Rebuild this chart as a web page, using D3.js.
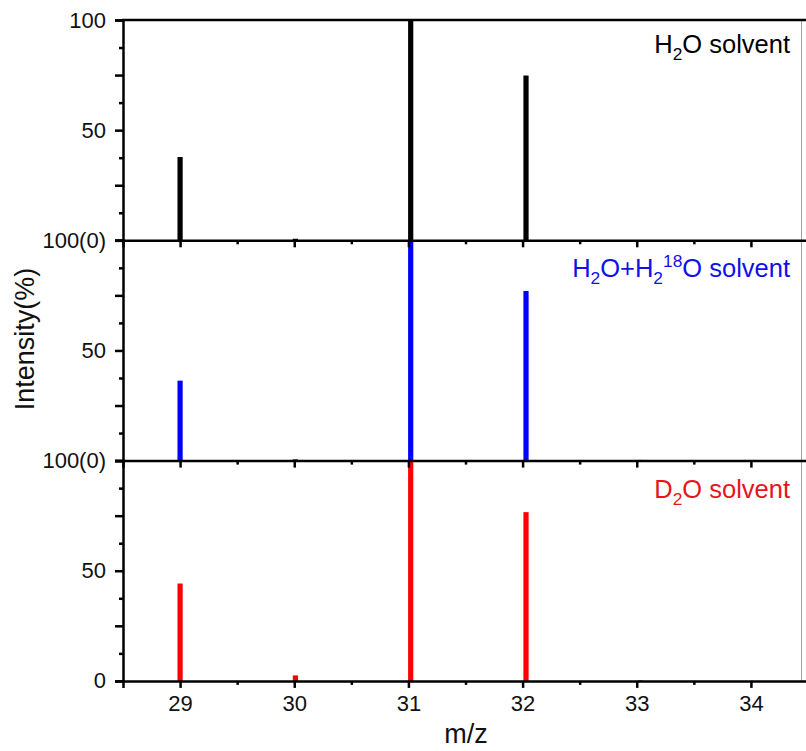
<!DOCTYPE html>
<html>
<head>
<meta charset="utf-8">
<script src="https://cdn.jsdelivr.net/npm/d3@7"></script>
<style>
  html, body { margin: 0; padding: 0; background: #fff; }
  svg { display: block; font-family: "Liberation Sans", Arial, sans-serif; }
</style>
</head>
<body>
<svg id="chart" width="806" height="751"></svg>
<script>
// ---- data ----
const mz = [29.00, 30.01, 31.02, 32.03, 33.03];
const h2oValues = [37.8, 0.7, 100, 74.8, 0];
const h2o18Values = [36.3, 0.6, 100, 77.0, 0.3];
const d2oValues = [44.2, 2.5, 100, 76.6, 0.3];
const seriesColors = ["#000000", "#0000ff", "#ff0000"];
const xTicks = [29, 30, 31, 32, 33, 34];
const xMinorTicks = [29.5, 30.5, 31.5, 32.5, 33.5];
const yMajorTicks = [0, 25, 50, 75, 100];
const yMinorTicks = [12.5, 37.5, 62.5, 87.5];
const panelTopLabels = ["100", "100(0)", "100(0)"];
const bottomZeroLabel = "0";
const xTitle = "m/z";
const yTitle = "Intensity(%)";

const series = [h2oValues, h2o18Values, d2oValues];

// ---- layout ----
const svg = d3.select("#chart");
const plotLeft = 123, plotRight = 808, plotTop = 20, panelH = 220.3;
const x = d3.scaleLinear().domain([28.5, 34.5]).range([plotLeft, plotRight]);
const axisW = 2.5;

function panelY(i) {
  return d3.scaleLinear().domain([0, 100]).range([plotTop + panelH * (i + 1), plotTop + panelH * i]);
}

// bars
series.forEach((vals, i) => {
  const y = panelY(i);
  svg.append("g").selectAll("rect").data(vals.map((v, j) => ({ m: mz[j], v })))
    .join("rect")
    .attr("x", d => x(d.m) - 2.6)
    .attr("width", 5.2)
    .attr("y", d => y(d.v))
    .attr("height", d => y(0) - y(d.v))
    .attr("fill", seriesColors[i]);
});

// right thin border
svg.append("line")
  .attr("x1", 801.5).attr("x2", 801.5)
  .attr("y1", plotTop).attr("y2", plotTop + panelH * 3)
  .attr("stroke", "#a0a0a0").attr("stroke-width", 1);

// top line
svg.append("line")
  .attr("x1", plotLeft - 1).attr("x2", 806)
  .attr("y1", plotTop).attr("y2", plotTop)
  .attr("stroke", "#000").attr("stroke-width", axisW);

// axes per panel
series.forEach((vals, i) => {
  const y = panelY(i);
  const gl = svg.append("g").attr("transform", `translate(${plotLeft},0)`)
    .call(d3.axisLeft(y).tickValues(yMajorTicks).tickSize(8).tickPadding(9)
      .tickFormat(d => {
        if (d === 100) return panelTopLabels[i];
        if (d === 50) return "50";
        if (d === 0 && i === 2) return bottomZeroLabel;
        return "";
      }));
  gl.select(".domain").attr("stroke-width", axisW);
  gl.selectAll(".tick line").attr("stroke-width", axisW);
  gl.selectAll(".tick text").attr("font-size", 22).attr("fill", "#111")
    .attr("font-family", "Liberation Sans, Arial, sans-serif");
  const glm = svg.append("g").attr("transform", `translate(${plotLeft},0)`)
    .call(d3.axisLeft(y).tickValues(yMinorTicks).tickSize(4).tickFormat(""));
  glm.select(".domain").remove();
  glm.selectAll(".tick line").attr("stroke-width", axisW);

  const gb = svg.append("g").attr("transform", `translate(0,${y(0)})`)
    .call(d3.axisBottom(x).tickValues(xTicks).tickSize(7).tickPadding(7)
      .tickFormat(i === 2 ? d3.format("d") : ""));
  gb.select(".domain").attr("stroke-width", axisW);
  gb.selectAll(".tick line").attr("stroke-width", axisW);
  gb.selectAll(".tick text").attr("font-size", 22).attr("fill", "#111")
    .attr("font-family", "Liberation Sans, Arial, sans-serif");
  const gbm = svg.append("g").attr("transform", `translate(0,${y(0)})`)
    .call(d3.axisBottom(x).tickValues(xMinorTicks).tickSize(4).tickFormat(""));
  gbm.select(".domain").remove();
  gbm.selectAll(".tick line").attr("stroke-width", axisW);
});

// panel labels
const fs = 25.5;
function addLabel(parts, yBase, color) {
  const t = svg.append("text")
    .attr("x", 790).attr("y", yBase)
    .attr("text-anchor", "end")
    .attr("font-size", fs).attr("fill", color);
  parts.forEach(p => {
    const ts = t.append("tspan").text(p.t);
    if (p.size) ts.attr("font-size", fs * p.size);
    if (p.dy) ts.attr("dy", p.dy);
  });
}
addLabel([{ t: "H" }, { t: "2", size: 0.68, dy: 7 }, { t: "O solvent", dy: -7 }], 53, "#000");
addLabel([{ t: "H" }, { t: "2", size: 0.68, dy: 7 }, { t: "O+H", dy: -7 }, { t: "2", size: 0.68, dy: 7 },
  { t: "18", size: 0.68, dy: -17 }, { t: "O solvent", dy: 10 }], 276.5, "#1010e8");
addLabel([{ t: "D" }, { t: "2", size: 0.68, dy: 7 }, { t: "O solvent", dy: -7 }], 498, "#e8141c");

// axis titles
svg.append("text").attr("x", 466).attr("y", 743)
  .attr("text-anchor", "middle").attr("font-size", 27).attr("fill", "#111").text(xTitle);
svg.append("text")
  .attr("transform", "translate(34,339) rotate(-90)")
  .attr("text-anchor", "middle").attr("font-size", 27).attr("fill", "#111").text(yTitle);
</script>
</body>
</html>
